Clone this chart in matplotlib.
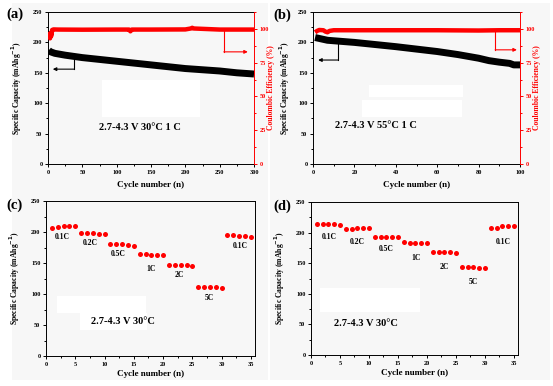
import numpy as np
import matplotlib
matplotlib.use("Agg")
import matplotlib.pyplot as plt
from matplotlib.patches import Rectangle
from matplotlib.ticker import MultipleLocator

plt.rcParams["font.family"] = ["Liberation Serif", "DejaVu Serif"]
plt.rcParams["font.weight"] = "bold"

# -----------------------------------------------------------------------
# Data
# -----------------------------------------------------------------------

# (a) 30 C, 1 C, 300 cycles
a_cap_cycle = [1, 3, 5, 10, 25, 50, 75, 100, 125, 150, 175, 200, 225, 250, 275, 300]
a_cap = [187, 185, 184, 182, 179, 175, 172, 169, 166, 163, 160, 157, 155, 153, 150, 148]
a_ce_cycle = [1, 2, 3, 4, 5, 6, 8, 15, 50, 100, 118, 120, 122, 150, 200, 208, 210, 212, 250, 300]
a_ce = [94, 96, 93, 97, 95, 99.2, 99.6, 99.5, 99.4, 99.5, 99.5, 98.2, 99.5, 99.5, 99.6, 100.3, 100.8, 100.3, 99.5, 99.5]

# (b) 55 C, 1 C, 100 cycles
b_cap_cycle = [1, 5, 7, 20, 30, 40, 50, 60, 70, 80, 85, 90, 95, 97, 100]
b_cap = [208, 205, 203.5, 200, 196.5, 193, 189, 185, 180, 174, 170, 167.5, 165.5, 163, 163]
b_ce_cycle = [1, 2, 3, 5, 6, 7, 8, 10, 20, 40, 60, 80, 90, 100]
b_ce = [97.5, 98.5, 99.2, 99, 98, 97.5, 98.5, 99, 99, 99, 99, 98.8, 99, 99]

# (c), (d) rate capability
cycles = np.arange(1, 36)
c_cap = [207, 208, 209, 209, 209,
         199, 199, 199, 197, 197,
         181, 180, 180, 179, 178,
         165, 164, 163, 163, 163,
         146, 146, 146, 146, 145,
         111, 111, 111, 111, 110,
         195, 195, 194, 193, 192]
d_cap = [214, 214, 214, 213.5, 213,
         206.5, 206, 207.5, 208, 208,
         193.5, 193, 193, 193, 193,
         184, 183.5, 183, 183, 183,
         169, 168, 168, 168, 167,
         143.5, 143, 143, 142, 142,
         207.5, 208, 210, 210, 210]

rate_labels = ["0.1C", "0.2C", "0.5C", "1C", "2C", "5C", "0.1C"]
c_label_x = [2.7, 7.6, 12.4, 17.9, 22.8, 27.9, 33.2]
c_label_y = [192, 183, 165, 141, 130, 93, 178]
d_label_x = [3.2, 8.0, 13.0, 18.2, 23.0, 28.0, 33.1]
d_label_y = [192, 184, 173, 159, 143, 119, 184]

RED = "#ff0000"
BG = "#f7f7f7"

fig = plt.figure(figsize=(5.53, 3.86), dpi=100)
fig.patch.set_facecolor("white")

W, H = 553.0, 386.0


def px_axes(l, t, r, b):
    return [l / W, 1 - b / H, (r - l) / W, (b - t) / H]


# faint grey panel backgrounds
for l, t, r, b in [(12, 3, 268, 198), (270, 3, 550, 198), (12, 192, 268, 380), (270, 192, 550, 380)]:
    fig.patches.append(Rectangle((l / W, 1 - b / H), (r - l) / W, (b - t) / H,
                                 transform=fig.transFigure, facecolor=BG,
                                 edgecolor="none", zorder=-10))


def style_axes(ax, xmajor, xminor):
    ax.set_facecolor(BG)
    ax.set_ylim(0, 250)
    ax.yaxis.set_major_locator(MultipleLocator(50))
    ax.yaxis.set_minor_locator(MultipleLocator(25))
    ax.xaxis.set_major_locator(MultipleLocator(xmajor))
    ax.xaxis.set_minor_locator(MultipleLocator(xminor))
    ax.tick_params(which="both", direction="out", labelsize=4.5, width=0.7, pad=1.5)
    ax.tick_params(which="major", length=2.5)
    ax.tick_params(which="minor", length=1.5)
    for sp in ax.spines.values():
        sp.set_linewidth(0.7)
    for lab in ax.get_xticklabels() + ax.get_yticklabels():
        lab.set_fontweight("bold")
    ax.set_xlabel("Cycle number (n)", fontsize=6.5, fontweight="bold")
    ax.set_ylabel("Specific Capacity (mAhg$^{\\mathbf{-1}}$)", fontsize=5.5, fontweight="bold")


def add_white(ax, boxes):
    for x0, y0, x1, y1 in boxes:
        ax.add_patch(Rectangle((x0, y0), x1 - x0, y1 - y0, transform=ax.transAxes,
                               facecolor="white", edgecolor="none", zorder=0.5))


def bent_arrow(ax, x0, y0, y1, x1, color):
    ax.plot([x0, x0], [y0, y1], color=color, lw=0.8, zorder=3)
    ax.annotate("", xy=(x1, y1), xytext=(x0, y1),
                arrowprops=dict(arrowstyle="-|>", color=color, lw=0.8,
                                mutation_scale=5, shrinkA=0, shrinkB=0), zorder=3)


def cycling_panel(rect, cap_x, cap_y, ce_x, ce_y, xmax, xmajor, xminor,
                  left_arrow, right_arrow, note, note_xy, whites, tag, tag_xy, ylab_x):
    ax = fig.add_axes(px_axes(*rect))
    style_axes(ax, xmajor, xminor)
    ax.set_xlim(0, xmax)
    ax.plot(cap_x, cap_y, color="black", lw=5, solid_capstyle="butt", zorder=2)
    ax.spines["right"].set_visible(False)
    add_white(ax, whites)
    ax.text(note_xy[0], note_xy[1], note, fontsize=7.5, fontweight="bold", zorder=4)
    bent_arrow(ax, *left_arrow, "black")
    ax.xaxis.set_label_coords(0.5, -0.115)
    ax.yaxis.set_label_coords(ylab_x, 0.5)

    ax2 = ax.twinx()
    ax2.set_ylim(0, 112.5)
    ax2.set_xlim(0, xmax)
    ax2.plot(ce_x, ce_y, color=RED, lw=3.2, solid_capstyle="butt", zorder=2)
    ax2.yaxis.set_major_locator(MultipleLocator(25))
    ax2.yaxis.set_minor_locator(MultipleLocator(12.5))
    ax2.tick_params(which="both", direction="out", labelsize=4.5, width=0.7, pad=1.5,
                    colors=RED)
    ax2.tick_params(which="major", length=2.5)
    ax2.tick_params(which="minor", length=1.5)
    for lab in ax2.get_yticklabels():
        lab.set_fontweight("bold")
    for name in ["left", "top", "bottom"]:
        ax2.spines[name].set_visible(False)
    ax2.spines["right"].set_color(RED)
    ax2.spines["right"].set_linewidth(0.7)
    ax2.set_ylabel("Coulombic Efficiency (%)", color=RED, fontsize=5.5, fontweight="bold")
    ax2.yaxis.set_label_coords(1.065, 0.5)
    bent_arrow(ax2, *right_arrow, RED)
    fig.text(tag_xy[0] / W, 1 - tag_xy[1] / H, tag, fontsize=10.5, fontweight="bold",
             va="center", ha="left")
    return ax


def rate_panel(rect, caps, label_x, label_y, note_xy, whites, tag, tag_xy):
    ax = fig.add_axes(px_axes(*rect))
    style_axes(ax, 5, 2.5)
    ax.set_xlim(0, 35.7)
    ax.plot(cycles, caps, "o", color=RED, markersize=3.6, markeredgewidth=0, zorder=3)
    add_white(ax, whites)
    for lab, x, y in zip(rate_labels, label_x, label_y):
        ax.text(x, y, lab, fontsize=5.5, fontweight="bold", ha="center", va="center", zorder=4)
    ax.text(note_xy[0], note_xy[1], "2.7-4.3 V 30\u00b0C", fontsize=7.5, fontweight="bold", zorder=4)
    ax.xaxis.set_label_coords(0.5, -0.09)
    ax.yaxis.set_label_coords(-0.115, 0.5)
    fig.text(tag_xy[0] / W, 1 - tag_xy[1] / H, tag, fontsize=10.5, fontweight="bold",
             va="center", ha="left")
    return ax


cycling_panel((48, 12, 254, 164), a_cap_cycle, a_cap, a_ce_cycle, a_ce, 300, 50, 25,
              (38, 179, 156, 7), (256, 99.5, 83, 291),
              "2.7-4.3 V 30\u00b0C 1 C", (74, 56),
              [(0.262, 0.309, 0.738, 0.553)], "(a)", (6, 14), -0.115)

cycling_panel((313, 12, 520, 164), b_cap_cycle, b_cap, b_ce_cycle, b_ce, 100, 20, 10,
              (12, 202, 171, 2.5), (88, 99, 84.5, 98.5),
              "2.7-4.3 V 55\u00b0C 1 C", (10.6, 59),
              [(0.27, 0.44, 0.725, 0.52), (0.237, 0.31, 0.72, 0.42)], "(b)", (273, 15), -0.10)

rate_panel((46, 201, 255, 356), c_cap, c_label_x, c_label_y, (7.7, 51),
           [(0.053, 0.277, 0.478, 0.387), (0.163, 0.168, 0.483, 0.277)], "(c)", (6, 205))

rate_panel((311, 202, 518, 355), d_cap, d_label_x, d_label_y, (4.0, 48),
           [(0.043, 0.28, 0.527, 0.437)], "(d)", (273, 206))

fig.savefig("out.png", dpi=100, facecolor="white")
